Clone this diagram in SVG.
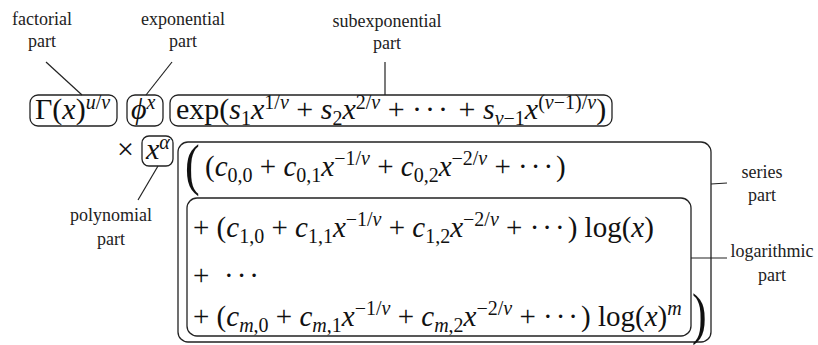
<svg xmlns="http://www.w3.org/2000/svg" width="818" height="345" viewBox="0 0 818 345">
<style>
.lbl{font-family:'Liberation Serif','DejaVu Serif',serif;font-size:18px;fill:#222;text-anchor:middle}
.m{font-family:'Liberation Serif','DejaVu Serif',serif;font-size:30px;fill:#111}
.r{font-size:29px}
.i{font-style:italic}
.s{font-size:20px}
.big{font-family:'Liberation Serif','DejaVu Serif',serif;font-size:44px;fill:#111}
.box{fill:none;stroke:#222;stroke-width:1.3}
.ln{stroke:#222;stroke-width:1.2;fill:none}
.dots{letter-spacing:3px}
</style>
<rect width="818" height="345" fill="#fff"/>
<g id="connectors">
<line class="ln" x1="46" y1="62" x2="82" y2="95"/>
<line class="ln" x1="172" y1="62" x2="146" y2="95"/>
<line class="ln" x1="385" y1="62" x2="385" y2="95"/>
<line class="ln" x1="158" y1="166" x2="138" y2="200"/>
<line class="ln" x1="711" y1="184" x2="727" y2="183"/>
<line class="ln" x1="691" y1="258" x2="727" y2="258"/>
</g>
<g id="factorial">
<text class="lbl" x="42" y="25">factorial</text>
<text class="lbl" x="42" y="47">part</text>
<rect class="box" x="30" y="95" width="87" height="31" rx="8"/>
<text class="m" x="35" y="119">Γ(<tspan class="i">x</tspan>)<tspan class="s i" dy="-10">u</tspan><tspan class="s">/</tspan><tspan class="s i">v</tspan></text>
</g>
<g id="exponential">
<text class="lbl" x="183" y="25">exponential</text>
<text class="lbl" x="183" y="47">part</text>
<rect class="box" x="127" y="95" width="36" height="31" rx="8"/>
<text class="m" x="131" y="119"><tspan class="i">ϕ</tspan><tspan class="s i" dy="-10">x</tspan></text>
</g>
<g id="subexponential">
<text class="lbl" x="387" y="27">subexponential</text>
<text class="lbl" x="387" y="49">part</text>
<rect class="box" x="170" y="95" width="442" height="31" rx="8"/>
<text class="m" x="176" y="119">exp(<tspan class="i">s</tspan><tspan class="s" dy="6">1</tspan><tspan class="i" dy="-6">x</tspan><tspan class="s" dy="-10">1/</tspan><tspan class="s i">v</tspan><tspan dy="10"> + </tspan><tspan class="i">s</tspan><tspan class="s" dy="6">2</tspan><tspan class="i" dy="-6">x</tspan><tspan class="s" dy="-10">2/</tspan><tspan class="s i">v</tspan><tspan dy="10"> + </tspan><tspan class="dots">···</tspan> + <tspan class="i">s</tspan><tspan class="s i" dy="6">v</tspan><tspan class="s">−1</tspan><tspan class="i" dy="-6">x</tspan><tspan class="s" dy="-10">(</tspan><tspan class="s i">v</tspan><tspan class="s">−1)/</tspan><tspan class="s i">v</tspan><tspan dy="10">)</tspan></text>
</g>
<g id="polynomial">
<text class="m" x="117" y="159">×</text>
<rect class="box" x="142" y="136" width="31" height="30" rx="7"/>
<text class="m" x="146" y="159"><tspan class="i">x</tspan><tspan class="s i" dy="-10">α</tspan></text>
<text class="lbl" x="111" y="221">polynomial</text>
<text class="lbl" x="111" y="245">part</text>
</g>
<g id="series">
<rect class="box" x="178" y="142" width="533" height="200" rx="10"/>
<text class="big" transform="translate(185,184) scale(1,1.3)">(</text>
<text class="m r" x="205" y="176">(<tspan class="i">c</tspan><tspan class="s" dy="6">0,0</tspan><tspan dy="-6"> + </tspan><tspan class="i">c</tspan><tspan class="s" dy="6">0,1</tspan><tspan class="i" dy="-6">x</tspan><tspan class="s" dy="-11">−1/</tspan><tspan class="s i">v</tspan><tspan dy="11"> + </tspan><tspan class="i">c</tspan><tspan class="s" dy="6">0,2</tspan><tspan class="i" dy="-6">x</tspan><tspan class="s" dy="-11">−2/</tspan><tspan class="s i">v</tspan><tspan dy="11"> + </tspan><tspan class="dots">···</tspan>)</text>
<text class="big" transform="translate(692,333) scale(1,1.3)">)</text>
<text class="lbl" x="762" y="178">series</text>
<text class="lbl" x="762" y="201">part</text>
</g>
<g id="logarithmic">
<rect class="box" x="187" y="198" width="504" height="138" rx="10"/>
<text class="m r" x="193" y="237">+ (<tspan class="i">c</tspan><tspan class="s" dy="6">1,0</tspan><tspan dy="-6"> + </tspan><tspan class="i">c</tspan><tspan class="s" dy="6">1,1</tspan><tspan class="i" dy="-6">x</tspan><tspan class="s" dy="-11">−1/</tspan><tspan class="s i">v</tspan><tspan dy="11"> + </tspan><tspan class="i">c</tspan><tspan class="s" dy="6">1,2</tspan><tspan class="i" dy="-6">x</tspan><tspan class="s" dy="-11">−2/</tspan><tspan class="s i">v</tspan><tspan dy="11"> + </tspan><tspan class="dots">···</tspan>) log(<tspan class="i">x</tspan>)</text>
<text class="m r" x="193" y="285">+<tspan class="dots" x="224">···</tspan></text>
<text class="m r" x="193" y="326">+ (<tspan class="i">c</tspan><tspan class="s i" dy="6">m</tspan><tspan class="s">,0</tspan><tspan dy="-6"> + </tspan><tspan class="i">c</tspan><tspan class="s i" dy="6">m</tspan><tspan class="s">,1</tspan><tspan class="i" dy="-6">x</tspan><tspan class="s" dy="-11">−1/</tspan><tspan class="s i">v</tspan><tspan dy="11"> + </tspan><tspan class="i">c</tspan><tspan class="s i" dy="6">m</tspan><tspan class="s">,2</tspan><tspan class="i" dy="-6">x</tspan><tspan class="s" dy="-11">−2/</tspan><tspan class="s i">v</tspan><tspan dy="11"> + </tspan><tspan class="dots">···</tspan>) log(<tspan class="i">x</tspan>)<tspan class="s i" dy="-11">m</tspan></text>
<text class="lbl" x="772" y="257">logarithmic</text>
<text class="lbl" x="772" y="281">part</text>
</g>
</svg>
